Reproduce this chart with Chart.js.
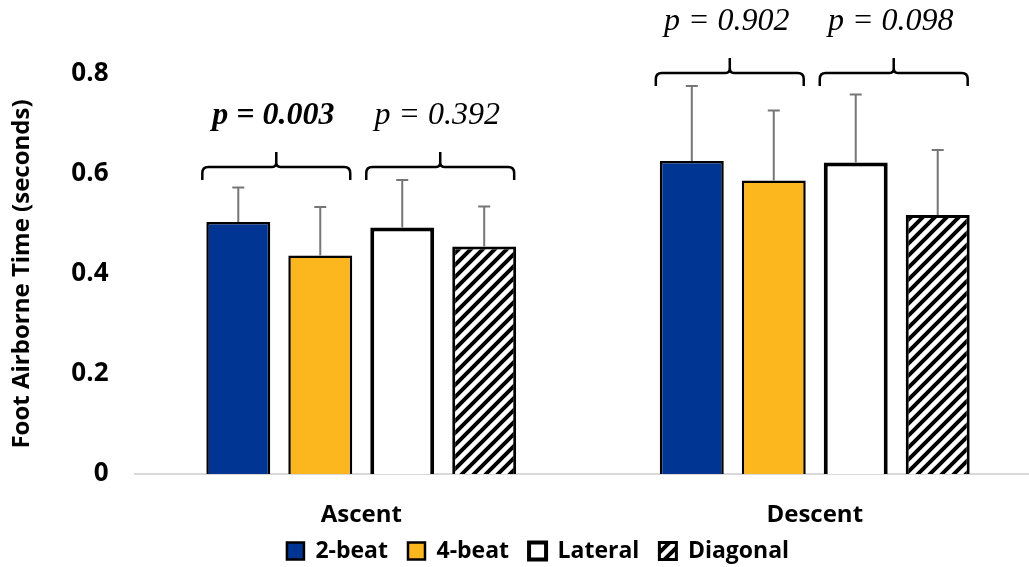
<!DOCTYPE html>
<html>
<head>
<meta charset="utf-8">
<script src="https://cdn.jsdelivr.net/npm/chart.js@4"></script>
<style>
  html, body { margin: 0; padding: 0; background: #fff; overflow: hidden; }
  #wrap { position: absolute; left: 0; top: 0; width: 1045px; height: 567px; }
</style>
</head>
<body>
<div id="wrap"><canvas id="myChart"></canvas></div>
<script>
const categories = ['Ascent', 'Descent'];
const seriesNames = ['2-beat', '4-beat', 'Lateral', 'Diagonal'];
const twoBeat = [0.504, 0.626];
const twoBeatErr = [0.069, 0.150];
const fourBeat = [0.437, 0.587];
const fourBeatErr = [0.097, 0.140];
const lateral = [0.493, 0.623];
const lateralErr = [0.095, 0.136];
const diagonal = [0.455, 0.518];
const diagonalErr = [0.080, 0.130];
const yTickLabels = ['0', '0.2', '0.4', '0.6', '0.8'];
const pLabels = ['p = 0.003', 'p = 0.392', 'p = 0.902', 'p = 0.098'];
const pBold = [true, false, false, false];
const pairs = [[0, 1], [2, 3]];

// diagonal hatch for the last series
function hatch() {
  const s = 12;
  const c = document.createElement('canvas');
  c.width = s; c.height = s;
  const g = c.getContext('2d');
  g.fillStyle = '#fff';
  g.fillRect(0, 0, s, s);
  g.strokeStyle = '#000';
  g.lineWidth = 4;
  g.beginPath();
  g.moveTo(-s, s); g.lineTo(s, -s);
  g.moveTo(0, s * 2); g.lineTo(s * 2, 0);
  g.moveTo(-s / 2, s * 1.5); g.lineTo(s * 1.5, -s / 2);
  g.stroke();
  return g.createPattern(c, 'repeat');
}

const extras = {
  id: 'extras',
  afterLayout(chart) {
    // pull the legend a little closer to the axis labels
    chart.legend.top -= 6.5;
    chart.legend.bottom -= 6.5;
  },
  afterDatasetsDraw(chart) {
    const ctx = chart.ctx, y = chart.scales.y;
    const sets = chart.data.datasets;
    ctx.save();
    // error bars (upper only)
    ctx.strokeStyle = '#767676';
    ctx.lineWidth = 2;
    sets.forEach((ds, d) => {
      chart.getDatasetMeta(d).data.forEach((bar, i) => {
        const top = y.getPixelForValue(ds.data[i] + ds.err[i]);
        ctx.beginPath();
        ctx.moveTo(bar.x, bar.y);
        ctx.lineTo(bar.x, top);
        ctx.moveTo(bar.x - 6, top);
        ctx.lineTo(bar.x + 6, top);
        ctx.stroke();
      });
    });
    // brackets + p values
    ctx.strokeStyle = '#000';
    ctx.lineWidth = 2.5;
    ctx.fillStyle = '#000';
    ctx.textAlign = 'center';
    ctx.textBaseline = 'middle';
    categories.forEach((c, i) => {
      let hi = Infinity;
      sets.forEach(ds => { hi = Math.min(hi, y.getPixelForValue(ds.data[i] + ds.err[i])); });
      pairs.forEach((pr, k) => {
        const a = chart.getDatasetMeta(pr[0]).data[i];
        const b = chart.getDatasetMeta(pr[1]).data[i];
        const x1 = a.x - a.width / 2 - 4, x2 = b.x + b.width / 2 - 2, xm = (x1 + x2) / 2;
        const yEnd = hi, yLine = hi - 13, yTip = hi - 28, r = 6;
        ctx.beginPath();
        ctx.moveTo(x1, yEnd);
        ctx.lineTo(x1, yLine + r);
        ctx.quadraticCurveTo(x1, yLine, x1 + r, yLine);
        ctx.lineTo(xm - 4, yLine);
        ctx.quadraticCurveTo(xm, yLine, xm, yLine - 5);
        ctx.lineTo(xm, yTip);
        ctx.moveTo(xm, yLine - 5);
        ctx.quadraticCurveTo(xm, yLine, xm + 4, yLine);
        ctx.lineTo(x2 - r, yLine);
        ctx.quadraticCurveTo(x2, yLine, x2, yLine + r);
        ctx.lineTo(x2, yEnd);
        ctx.stroke();
        const n = i * 2 + k;
        ctx.font = (pBold[n] ? 'italic bold ' : 'italic ') + '32px "Liberation Serif"';
        ctx.fillText(pLabels[n], xm - 3, hi - 64);
      });
    });
    ctx.restore();
  }
};

const ctx = document.getElementById('myChart');

new Chart(ctx, {
  type: 'bar',
  data: {
    labels: categories,
    datasets: [
      { label: seriesNames[0], data: twoBeat, err: twoBeatErr, backgroundColor: '#003594', borderColor: '#000', borderWidth: 2.5 },
      { label: seriesNames[1], data: fourBeat, err: fourBeatErr, backgroundColor: '#FDB71E', borderColor: '#000', borderWidth: 2.5 },
      { label: seriesNames[2], data: lateral, err: lateralErr, backgroundColor: '#fff', borderColor: '#000', borderWidth: 4 },
      { label: seriesNames[3], data: diagonal, err: diagonalErr, backgroundColor: hatch(), borderColor: '#000', borderWidth: 3 }
    ]
  },
  options: {
    responsive: true,
    maintainAspectRatio: false,
    animation: false,
    categoryPercentage: 0.723,
    barPercentage: 0.78,
    layout: { padding: { left: 34.5, right: 3.5, top: 74, bottom: -12 } },
    plugins: {
      legend: {
        position: 'bottom',
        labels: {
          color: '#000',
          font: { family: 'Open Sans', weight: 'bold', size: 23 },
          boxWidth: 17,
          boxHeight: 17,
          padding: 20
        }
      },
      tooltip: { enabled: false }
    },
    scales: {
      x: {
        grid: { display: false, drawTicks: false },
        border: { display: true, color: '#d9d9d9', width: 2 },
        ticks: { color: '#000', padding: 27, font: { family: 'Open Sans', weight: 'bold', size: 24 } },
        afterFit(scale) { scale.height = 52; }
      },
      y: {
        min: 0,
        max: 0.8,
        grid: { display: false, drawTicks: false },
        border: { display: false },
        ticks: {
          stepSize: 0.2,
          color: '#000',
          padding: 26,
          font: { family: 'Open Sans', weight: 'bold', size: 26 },
          callback: (v, i) => yTickLabels[i]
        },
        title: {
          display: true,
          text: 'Foot Airborne Time (seconds)',
          color: '#000',
          font: { family: 'Open Sans', weight: 'bold', size: 24 },
          padding: { top: -27, bottom: 0 }
        },
        afterFit(scale) { scale.width = 100; }
      }
    }
  },
  plugins: [extras]
});
</script>
</body>
</html>
